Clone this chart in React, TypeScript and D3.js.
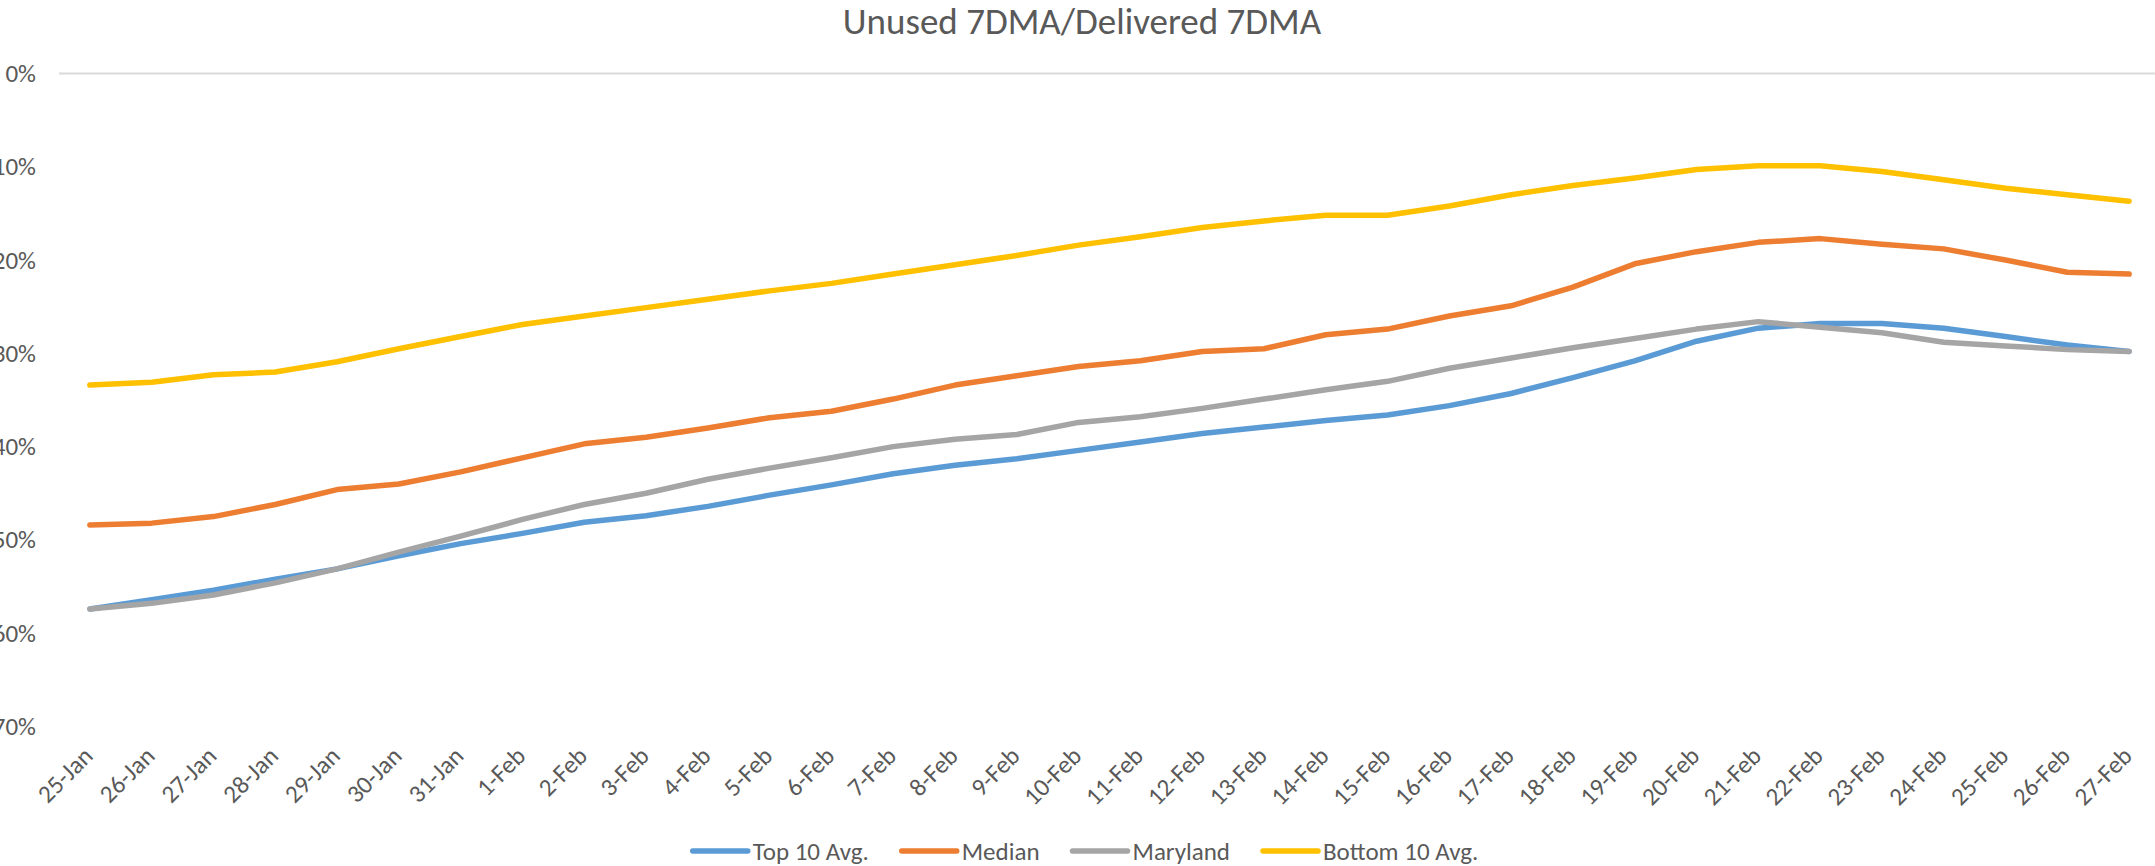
import React, { useRef, useEffect } from "react";
import * as d3 from "d3";

// daily labels, 25-Jan .. 27-Feb
const dates = [
  "25-Jan", "26-Jan", "27-Jan", "28-Jan", "29-Jan", "30-Jan", "31-Jan",
  "1-Feb", "2-Feb", "3-Feb", "4-Feb", "5-Feb", "6-Feb", "7-Feb", "8-Feb",
  "9-Feb", "10-Feb", "11-Feb", "12-Feb", "13-Feb", "14-Feb", "15-Feb",
  "16-Feb", "17-Feb", "18-Feb", "19-Feb", "20-Feb", "21-Feb", "22-Feb",
  "23-Feb", "24-Feb", "25-Feb", "26-Feb", "27-Feb",
];

// values in percent
const top10Avg = [
  57.4, 56.4, 55.4, 54.2, 53.1, 51.7, 50.4, 49.3, 48.1, 47.4, 46.4, 45.2, 44.1,
  42.9, 42.0, 41.3, 40.4, 39.5, 38.6, 37.9, 37.2, 36.6, 35.6, 34.3, 32.6, 30.8,
  28.7, 27.3, 26.8, 26.8, 27.3, 28.2, 29.1, 29.8,
];
const median = [
  48.4, 48.2, 47.5, 46.2, 44.6, 44.0, 42.7, 41.2, 39.7, 39.0, 38.0, 36.9, 36.2,
  34.9, 33.4, 32.4, 31.4, 30.8, 29.8, 29.5, 28.0, 27.4, 26.0, 24.9, 22.9, 20.4,
  19.1, 18.1, 17.7, 18.3, 18.8, 20.0, 21.3, 21.5,
];
const maryland = [
  57.4, 56.8, 55.9, 54.6, 53.1, 51.3, 49.6, 47.8, 46.2, 45.0, 43.5, 42.3, 41.2,
  40.0, 39.2, 38.7, 37.4, 36.8, 35.9, 34.9, 33.9, 33.0, 31.6, 30.5, 29.4, 28.4,
  27.4, 26.6, 27.2, 27.8, 28.8, 29.2, 29.6, 29.8,
];
const bottom10Avg = [
  33.4, 33.1, 32.3, 32.0, 30.9, 29.5, 28.2, 26.9, 26.0, 25.1, 24.2, 23.3, 22.5,
  21.5, 20.5, 19.5, 18.4, 17.5, 16.5, 15.8, 15.2, 15.2, 14.2, 13.0, 12.0, 11.2,
  10.3, 9.9, 9.9, 10.5, 11.4, 12.3, 13.0, 13.7,
];

const yTicks = [0, 0.1, 0.2, 0.3, 0.4, 0.5, 0.6, 0.7];

const series = [
  { name: "Top 10 Avg.", values: top10Avg, color: "#5b9bd5" },
  { name: "Median", values: median, color: "#ed7d31" },
  { name: "Maryland", values: maryland, color: "#a5a5a5" },
  { name: "Bottom 10 Avg.", values: bottom10Avg, color: "#ffc000" },
];

const FONT = "Carlito, Calibri, Lato, sans-serif";
const TEXT = "#595959";

export default function App() {
  const svgRef = useRef<SVGSVGElement>(null);

  useEffect(() => {
    const W = 2155;
    const H = 866;
    const svg = d3.select(svgRef.current).attr("width", W).attr("height", H);
    svg.selectAll("*").remove();

    const x = d3.scalePoint().domain(dates).range([59, 2160]).padding(0.5);
    // reversed axis: 0% at top
    const y = d3.scaleLinear().domain([0, 0.7]).range([73.5, 726.5]);

    svg
      .append("text")
      .attr("x", 1082)
      .attr("y", 34)
      .attr("text-anchor", "middle")
      .style("font-family", FONT)
      .style("font-size", "37px")
      .attr("fill", TEXT)
      .text("Unused 7DMA/Delivered 7DMA");

    svg
      .append("line")
      .attr("x1", 59)
      .attr("x2", W)
      .attr("y1", y(0))
      .attr("y2", y(0))
      .attr("stroke", "#d9d9d9")
      .attr("stroke-width", 2);

    const yAxis = svg
      .append("g")
      .attr("transform", "translate(36,0)")
      .call(
        d3
          .axisLeft(y)
          .tickValues(yTicks)
          .tickSize(0)
          .tickPadding(0)
          .tickFormat(d3.format(".0%"))
      );
    yAxis.select(".domain").remove();
    yAxis
      .selectAll("text")
      .attr("fill", TEXT)
      .style("font-family", FONT)
      .style("font-size", "25px");

    const xAxis = svg
      .append("g")
      .attr("transform", `translate(0,${y(0.7)})`)
      .call(d3.axisBottom(x).tickSize(0));
    xAxis.select(".domain").remove();
    xAxis
      .selectAll("text")
      .attr("y", 0)
      .attr("dy", 0)
      .attr("transform", "translate(4,31) rotate(-45)")
      .attr("text-anchor", "end")
      .attr("fill", TEXT)
      .style("font-family", FONT)
      .style("font-size", "25px");

    const line = d3
      .line<number>()
      .x((_, i) => x(dates[i]) as number)
      .y((d) => y(d / 100));

    svg
      .selectAll(".series")
      .data(series)
      .join("path")
      .attr("class", "series")
      .attr("d", (s) => line(s.values))
      .attr("fill", "none")
      .attr("stroke", (s) => s.color)
      .attr("stroke-width", 5.5)
      .attr("stroke-linejoin", "round")
      .attr("stroke-linecap", "round");

    // legend, centred under the plot
    const legend = svg.append("g");
    const swatch = 55;
    const gap = 5;
    const spacing = 33;
    const items = legend
      .selectAll("g")
      .data(series)
      .join("g");
    items
      .append("line")
      .attr("x1", 0)
      .attr("x2", swatch)
      .attr("y1", 0)
      .attr("y2", 0)
      .attr("stroke", (s) => s.color)
      .attr("stroke-width", 5.5)
      .attr("stroke-linecap", "round");
    items
      .append("text")
      .attr("x", swatch + gap)
      .attr("dy", "0.35em")
      .attr("fill", TEXT)
      .style("font-family", FONT)
      .style("font-size", "25px")
      .text((s) => s.name);

    let offset = 0;
    const widths: number[] = [];
    items.each(function () {
      const t = d3.select(this).select("text").node() as SVGTextElement;
      widths.push(swatch + gap + t.getComputedTextLength());
    });
    const total = d3.sum(widths) + spacing * (widths.length - 1);
    const start = 1085.5 - total / 2;
    items.attr("transform", (_, i) => {
      const tx = start + offset;
      offset += widths[i] + spacing;
      return `translate(${tx},851)`;
    });
  }, []);

  return (
    <div style={{ position: "absolute", left: 0, top: 0 }}>
      <svg ref={svgRef} style={{ display: "block", background: "#fff" }}></svg>
    </div>
  );
}
